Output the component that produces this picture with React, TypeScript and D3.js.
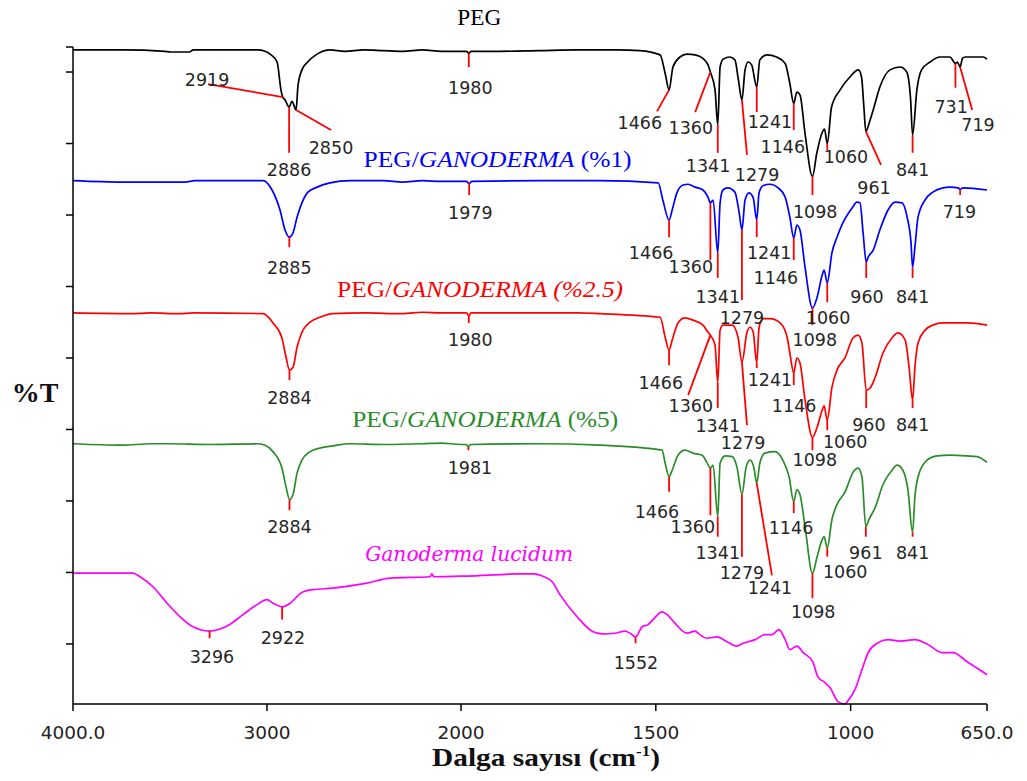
import React from 'react';
import * as d3 from 'd3';

type Pt = [number, number];
// [peak wavenumber, line end wavenumber, line end %T, label wavenumber, label %T]
type Peak = [number, number, number, number, number];

// FTIR spectra, wavenumber (cm-1) vs stacked %T
const pegSpectrum: Pt[] = [
  [4000, 103.1], [3742, 103.1], [3526, 102.9], [3500, 102.8], [3400, 102.8], [3380, 103.1], [3050, 103.1],
  [3010, 102.9], [2979, 102.4], [2948, 101.4], [2928, 97.5], [2919, 96.5], [2907, 96.1], [2886, 95.1],
  [2871, 95.9], [2850, 94.7], [2840, 98.2], [2820, 100.3], [2794, 101.3], [2742, 102.5], [2675, 103.1],
  [2600, 102.9], [2500, 103.1], [2400, 103.0], [2300, 102.9], [2200, 103.1], [2100, 102.9], [2000, 102.9],
  [1986, 102.9], [1980, 102.6], [1974, 102.9], [1900, 102.9], [1800, 103.0], [1700, 103.1], [1600, 103.1],
  [1541, 103.0], [1489, 102.4], [1476, 99.8], [1466, 97.5], [1456, 100.7], [1438, 102.1], [1420, 102.5],
  [1399, 102.4], [1379, 101.9], [1366, 101.0], [1360, 100.0], [1348, 97.5], [1341, 92.6], [1335, 100.7],
  [1327, 101.8], [1310, 102.1], [1297, 101.7], [1288, 98.9], [1279, 96.1], [1271, 100.3], [1263, 101.4],
  [1254, 101.0], [1241, 97.9], [1233, 101.7], [1215, 102.4], [1190, 102.1], [1168, 101.2], [1156, 98.4],
  [1146, 95.6], [1138, 97.2], [1130, 96.8], [1117, 91.4], [1098, 85.4], [1087, 88.6], [1074, 91.4],
  [1067, 92.0], [1060, 90.0], [1049, 95.1], [1027, 97.5], [1002, 99.3], [980, 100.3], [972, 99.3],
  [966, 95.1], [961, 91.7], [950, 93.3], [942, 94.7], [925, 97.9], [899, 100.3], [873, 100.7], [856, 100.0],
  [846, 96.1], [841, 91.2], [830, 97.5], [818, 100.3], [796, 101.4], [771, 102.1], [745, 102.1], [731, 101.2],
  [726, 101.4], [719, 100.7], [713, 101.9], [706, 102.1], [660, 102.1], [650, 101.8],
];

const peg1Spectrum: Pt[] = [
  [4000, 84.8], [3742, 84.6], [3588, 84.6], [3423, 84.6], [3371, 84.8], [3021, 84.8], [2974, 83.5],
  [2933, 80.7], [2907, 77.9], [2885, 76.9], [2866, 77.5], [2845, 79.7], [2820, 81.7], [2789, 83.2],
  [2742, 83.9], [2675, 84.5], [2572, 84.8], [2400, 84.8], [2300, 84.6], [2200, 84.8], [2100, 84.7],
  [2000, 84.7], [1986, 84.7], [1979, 84.4], [1972, 84.7], [1800, 84.8], [1643, 84.8], [1494, 84.5],
  [1482, 82.1], [1466, 79.3], [1458, 80.7], [1446, 83.1], [1430, 84.2], [1417, 84.3], [1399, 83.9],
  [1379, 83.5], [1366, 82.5], [1360, 81.7], [1353, 82.1], [1341, 74.7], [1335, 81.7], [1328, 83.5],
  [1315, 83.8], [1297, 83.2], [1286, 80.3], [1279, 77.9], [1271, 82.1], [1261, 83.1], [1250, 82.4],
  [1241, 79.3], [1235, 83.1], [1225, 84.1], [1207, 84.3], [1186, 83.8], [1168, 82.5], [1156, 79.7],
  [1146, 76.8], [1138, 78.6], [1130, 77.9], [1117, 72.7], [1098, 67.0], [1086, 68.5], [1073, 71.6],
  [1068, 72.3], [1060, 70.5], [1048, 74.7], [1035, 76.9], [1020, 78.9], [996, 81.0], [984, 81.8],
  [976, 81.7], [968, 77.5], [960, 73.4], [955, 74.1], [942, 75.1], [925, 77.9], [904, 80.7], [886, 81.8],
  [868, 81.7], [855, 79.7], [845, 76.1], [841, 72.7], [835, 75.5], [827, 79.7], [809, 82.1], [789, 83.2],
  [763, 83.8], [745, 83.9], [724, 83.8], [719, 83.6], [712, 83.8], [650, 83.5],
];

const peg25Spectrum: Pt[] = [
  [4000, 66.3], [3700, 66.2], [3600, 66.3], [3450, 66.2], [3380, 66.3], [3020, 66.2], [2969, 64.9],
  [2923, 62.8], [2902, 60.1], [2884, 58.3], [2866, 58.7], [2845, 61.5], [2820, 63.6], [2778, 65.0],
  [2727, 65.7], [2660, 66.2], [2500, 66.3], [2300, 66.2], [2200, 66.4], [2100, 66.3], [2000, 66.3],
  [1986, 66.3], [1980, 65.9], [1974, 66.3], [1900, 66.3], [1700, 66.3], [1643, 66.2], [1489, 65.7],
  [1476, 62.9], [1466, 61.1], [1458, 62.5], [1443, 64.9], [1425, 65.6], [1405, 65.3], [1379, 64.6],
  [1366, 63.6], [1360, 63.2], [1348, 61.8], [1341, 56.5], [1335, 63.9], [1328, 64.6], [1304, 64.6],
  [1289, 62.9], [1279, 59.4], [1266, 63.6], [1258, 64.3], [1250, 63.6], [1241, 59.3], [1235, 64.3],
  [1225, 65.5], [1207, 65.5], [1181, 64.9], [1163, 62.9], [1156, 60.7], [1146, 57.9], [1138, 60.0],
  [1130, 59.3], [1117, 54.1], [1098, 48.9], [1086, 50.3], [1073, 52.7], [1068, 53.3], [1060, 51.3],
  [1048, 55.9], [1035, 58.3], [1014, 60.1], [994, 62.8], [981, 63.2], [971, 62.1], [960, 55.5],
  [950, 55.8], [937, 57.3], [917, 60.7], [894, 62.8], [878, 63.5], [860, 62.5], [850, 58.7], [841, 54.1],
  [835, 58.7], [827, 62.1], [809, 63.9], [789, 64.6], [763, 64.9], [701, 64.9], [650, 64.6],
];

const peg5Spectrum: Pt[] = [
  [4000, 48.0], [3742, 47.8], [3600, 48.0], [3500, 48.0], [3300, 47.9], [3050, 48.0], [3010, 47.8],
  [2969, 46.9], [2923, 44.6], [2902, 42.0], [2884, 40.2], [2866, 40.9], [2845, 43.9], [2820, 45.7],
  [2778, 46.9], [2727, 47.4], [2660, 47.7], [2572, 48.0], [2400, 47.9], [2200, 48.0], [2100, 48.1],
  [2000, 47.9], [1987, 47.9], [1981, 47.6], [1975, 47.9], [1800, 48.0], [1643, 47.8], [1484, 47.1],
  [1476, 45.3], [1466, 43.4], [1458, 44.3], [1443, 46.4], [1425, 47.1], [1405, 46.7], [1381, 46.4],
  [1369, 45.4], [1360, 44.6], [1353, 45.0], [1341, 37.8], [1335, 45.3], [1322, 46.3], [1304, 46.2],
  [1292, 44.8], [1279, 40.9], [1268, 44.8], [1258, 45.7], [1248, 44.6], [1241, 42.5], [1233, 45.3],
  [1220, 46.7], [1194, 46.9], [1174, 45.7], [1158, 43.4], [1146, 39.9], [1138, 41.6], [1130, 40.9],
  [1117, 36.4], [1098, 29.9], [1086, 32.2], [1073, 34.6], [1068, 35.0], [1060, 33.4], [1048, 37.4],
  [1035, 39.5], [1014, 41.3], [994, 44.0], [981, 44.6], [971, 43.4], [961, 36.4], [953, 37.4],
  [937, 39.1], [917, 42.3], [894, 44.3], [881, 45.0], [866, 44.3], [853, 41.6], [841, 35.6], [835, 40.6],
  [824, 43.9], [804, 45.7], [778, 46.3], [745, 46.4], [701, 46.3], [676, 46.2], [650, 45.4],
];

const ganodermaSpectrum: Pt[] = [
  [4000, 29.9], [3691, 29.9], [3655, 29.4], [3588, 28.0], [3515, 25.7], [3448, 23.8], [3381, 22.4],
  [3296, 21.8], [3206, 22.5], [3124, 24.1], [3052, 25.5], [3000, 26.2], [2969, 25.7], [2922, 25.2],
  [2881, 25.7], [2820, 27.2], [2763, 27.6], [2660, 27.8], [2485, 28.5], [2366, 29.2], [2160, 29.4],
  [2150, 29.8], [2140, 29.4], [1985, 29.5], [1849, 29.8], [1813, 29.8], [1787, 29.4], [1766, 28.7],
  [1746, 26.9], [1702, 23.8], [1661, 21.7], [1636, 21.4], [1605, 21.5], [1579, 21.8], [1566, 21.5],
  [1552, 21.0], [1535, 22.4], [1520, 22.7], [1507, 23.4], [1484, 24.5], [1471, 24.1], [1451, 22.9],
  [1420, 21.5], [1399, 21.8], [1387, 21.3], [1369, 20.8], [1343, 21.0], [1317, 20.3], [1292, 19.7],
  [1276, 20.1], [1245, 20.6], [1220, 21.3], [1202, 21.3], [1184, 22.0], [1168, 20.6], [1156, 19.2],
  [1138, 19.7], [1122, 18.8], [1097, 17.5], [1084, 15.4], [1066, 14.6], [1053, 13.9], [1032, 11.9],
  [1014, 11.6], [1009, 11.9], [989, 13.6], [971, 16.4], [955, 18.8], [932, 20.1], [904, 20.6],
  [873, 20.4], [835, 20.6], [804, 20.0], [765, 18.8], [737, 18.8], [701, 17.5], [650, 15.7],
];

// Peak annotations for each spectrum
const pegPeaks: Peak[] = [
  [2919, 3304, 98.3, 3309, 98.9], [2886, 2886, 88.7, 2886, 86.3], [2850, 2670, 91.9, 2670, 89.4],
  [1980, 1980, 100.7, 1976, 97.8], [1466, 1497, 94.5, 1541, 92.9], [1360, 1399, 94.4, 1410, 92.2],
  [1341, 1341, 88.7, 1366, 86.9], [1279, 1266, 88.4, 1240, 85.6], [1241, 1241, 94.4, 1207, 93.0],
  [1146, 1146, 91.9, 1174, 89.5], [1098, 1098, 82.8, 1091, 80.4], [1060, 1060, 89.1, 1012, 88.1],
  [961, 922, 87.0, 940, 83.8], [841, 841, 88.7, 841, 86.3], [731, 731, 97.8, 742, 95.1],
  [719, 688, 94.7, 673, 92.6],
];
const peg1Peaks: Peak[] = [
  [2885, 2885, 75.5, 2885, 72.6], [1979, 1979, 82.8, 1976, 80.3], [1466, 1466, 76.9, 1512, 74.7],
  [1360, 1360, 73.7, 1410, 72.7], [1341, 1341, 71.2, 1341, 68.5], [1279, 1279, 68.1, 1279, 65.6],
  [1241, 1241, 76.9, 1209, 74.7], [1146, 1146, 73.7, 1192, 71.2], [1098, 1098, 64.6, 1092, 62.5],
  [1060, 1060, 67.8, 1058, 65.6], [960, 960, 71.2, 958, 68.5], [841, 841, 71.2, 841, 68.5],
  [719, 719, 82.8, 721, 80.4],
];
const peg25Peaks: Peak[] = [
  [2884, 2884, 56.9, 2884, 54.4], [1980, 1980, 64.9, 1976, 62.5], [1466, 1466, 59.0, 1487, 56.5],
  [1360, 1417, 54.8, 1410, 53.3], [1341, 1341, 53.0, 1341, 50.5], [1279, 1266, 50.6, 1276, 48.1],
  [1241, 1241, 58.6, 1207, 56.9], [1146, 1146, 56.2, 1145, 53.3], [1098, 1098, 47.1, 1092, 45.7],
  [1060, 1060, 49.9, 1014, 48.3], [960, 960, 53.0, 953, 50.6], [841, 841, 53.0, 841, 50.6],
];
const peg5Peaks: Peak[] = [
  [2884, 2884, 38.7, 2884, 36.4], [1981, 1981, 47.1, 1977, 44.6], [1466, 1466, 41.3, 1497, 38.5],
  [1360, 1360, 38.0, 1405, 36.4], [1341, 1341, 35.0, 1341, 32.7], [1279, 1279, 32.2, 1279, 29.9],
  [1241, 1202, 29.6, 1207, 27.8], [1146, 1146, 38.3, 1153, 36.2], [1098, 1098, 26.4, 1096, 24.5],
  [1060, 1060, 32.2, 1014, 30.1], [961, 961, 35.0, 961, 32.7], [841, 841, 35.0, 841, 32.7],
];
const ganodermaPeaks: Peak[] = [
  [3296, 3296, 20.8, 3284, 18.2], [2922, 2922, 23.4, 2918, 20.8], [1552, 1552, 20.1, 1551, 17.3],
];

// Spectrum titles: [text, italic] runs
type Run = [string, boolean];
const pegTitle: Run[] = [['PEG', false]];
const peg1Title: Run[] = [['PEG/', false], ['GANODERMA', true], [' (%1)', false]];
const peg25Title: Run[] = [['PEG/', false], ['GANODERMA (%2.5)', true]];
const peg5Title: Run[] = [['PEG/', false], ['GANODERMA', true], [' (%5)', false]];
const ganodermaTitle: Run[] = [['Ganoderma lucidum', true]];

const xTickValues = [4000, 3000, 2000, 1500, 1000, 650];
const xTickLabels = ['4000.0', '3000', '2000', '1500', '1000', '650.0'];
const yTickValues = [20, 30, 40, 50, 60, 70, 80, 90, 100];

const W = 1027;
const H = 781;

function valueAt(data: Pt[], wn: number): number {
  for (let i = 0; i < data.length - 1; i++) {
    const [a, va] = data[i];
    const [b, vb] = data[i + 1];
    if (wn <= a && wn >= b) {
      const t = a === b ? 0 : (a - wn) / (a - b);
      return va + (vb - va) * t;
    }
  }
  return data[data.length - 1][1];
}

export default function App() {
  const x = d3.scaleLinear().domain([4000, 2000, 650]).range([73, 461, 987]);
  const y = d3.scaleLinear().domain([11.6, 103.5]).range([704, 47]);
  const line = d3
    .line<Pt>()
    .x((d) => x(d[0]))
    .y((d) => y(d[1]))
    .curve(d3.curveMonotoneX);

  const series = [
    { data: pegSpectrum, peaks: pegPeaks, color: '#000000', title: pegTitle, tWn: 1953, tV: 106.6, tLen: 44, tFont: 'Liberation Serif' },
    { data: peg1Spectrum, peaks: peg1Peaks, color: '#0000ff', title: peg1Title, tWn: 1906, tV: 86.7, tLen: 268, tFont: 'Liberation Serif' },
    { data: peg25Spectrum, peaks: peg25Peaks, color: '#ff0000', title: peg25Title, tWn: 1951, tV: 68.5, tLen: 286, tFont: 'Liberation Serif' },
    { data: peg5Spectrum, peaks: peg5Peaks, color: '#2a8c2a', title: peg5Title, tWn: 1938, tV: 50.4, tLen: 266, tFont: 'Liberation Serif' },
    { data: ganodermaSpectrum, peaks: ganodermaPeaks, color: '#ff00ff', title: ganodermaTitle, tWn: 1979, tV: 31.6, tLen: 208, tFont: 'DejaVu Serif' },
  ];

  const yTicksAll = [y.domain()[1], ...yTickValues];
  const [yBottom, yTop] = y.range();

  return (
    <svg
      width={W}
      height={H}
      viewBox={`0 0 ${W} ${H}`}
      style={{ position: 'absolute', left: 0, top: 0, background: '#ffffff' }}
    >
      <rect x={0} y={0} width={W} height={H} fill="#ffffff" />

      {/* spectra */}
      {series.map((s, i) => (
        <path key={`s${i}`} d={line(s.data) || ''} fill="none" stroke={s.color} strokeWidth={1.7} strokeLinejoin="round" />
      ))}

      {/* peak marker lines */}
      {series.map((s, i) =>
        s.peaks.map((p, j) => {
          const [wn, ewn, ev] = p;
          return (
            <line
              key={`m${i}-${j}`}
              x1={x(wn)}
              y1={y(valueAt(s.data, wn))}
              x2={x(ewn)}
              y2={y(ev)}
              stroke="#ff0000"
              strokeWidth={1.8}
            />
          );
        })
      )}

      {/* peak labels */}
      {series.map((s, i) =>
        s.peaks.map((p, j) => (
          <text
            key={`l${i}-${j}`}
            x={x(p[3])}
            y={y(p[4])}
            textAnchor="middle"
            dominantBaseline="central"
            fontFamily="DejaVu Sans, Verdana, sans-serif"
            fontSize={17.5}
            fill="#262626"
          >
            {String(p[0])}
          </text>
        ))
      )}

      {/* spectrum titles */}
      {series.map((s, i) => (
        <text
          key={`t${i}`}
          x={x(s.tWn)}
          y={y(s.tV)}
          textAnchor="middle"
          fontFamily={s.tFont}
          fontSize={i === 4 ? 21 : 24}
          fill={s.color}
          textLength={s.tLen}
          lengthAdjust="spacingAndGlyphs"
          style={{ whiteSpace: 'pre' }}
        >
          {s.title.map((r, k) => (
            <tspan key={k} fontStyle={r[1] ? 'italic' : 'normal'}>
              {r[0]}
            </tspan>
          ))}
        </text>
      ))}

      {/* y axis */}
      <line x1={x(4000)} x2={x(4000)} y1={yTop} y2={yBottom} stroke="#000" strokeWidth={1.5} />
      {yTicksAll.map((t, i) => (
        <line key={`yt${i}`} x1={x(4000) - 7} x2={x(4000)} y1={y(t)} y2={y(t)} stroke="#000" strokeWidth={1.5} />
      ))}

      {/* x axis */}
      <line x1={x(4000)} x2={x(650)} y1={yBottom} y2={yBottom} stroke="#000" strokeWidth={1.5} />
      {xTickValues.map((t, i) => (
        <g key={`xt${i}`}>
          <line x1={x(t)} x2={x(t)} y1={yBottom} y2={yBottom + 7} stroke="#000" strokeWidth={1.5} />
          <text
            x={x(t)}
            y={739}
            textAnchor="middle"
            fontFamily="DejaVu Sans, Verdana, sans-serif"
            fontSize={18.5}
            fill="#222"
          >
            {xTickLabels[i]}
          </text>
        </g>
      ))}

      {/* axis titles */}
      <text
        x={546}
        y={766}
        textAnchor="middle"
        fontFamily="Liberation Serif, Times New Roman, serif"
        fontWeight="bold"
        fontSize={26}
        fill="#111"
        textLength={228}
        lengthAdjust="spacingAndGlyphs"
        style={{ whiteSpace: 'pre' }}
      >
        <tspan>Dalga sayısı (cm</tspan>
        <tspan fontSize={15} dy={-10}>-1</tspan>
        <tspan dy={10}>)</tspan>
      </text>
      <text
        x={35}
        y={402}
        textAnchor="middle"
        fontFamily="Liberation Serif, Times New Roman, serif"
        fontWeight="bold"
        fontSize={28}
        fill="#111"
      >
        %T
      </text>
    </svg>
  );
}
